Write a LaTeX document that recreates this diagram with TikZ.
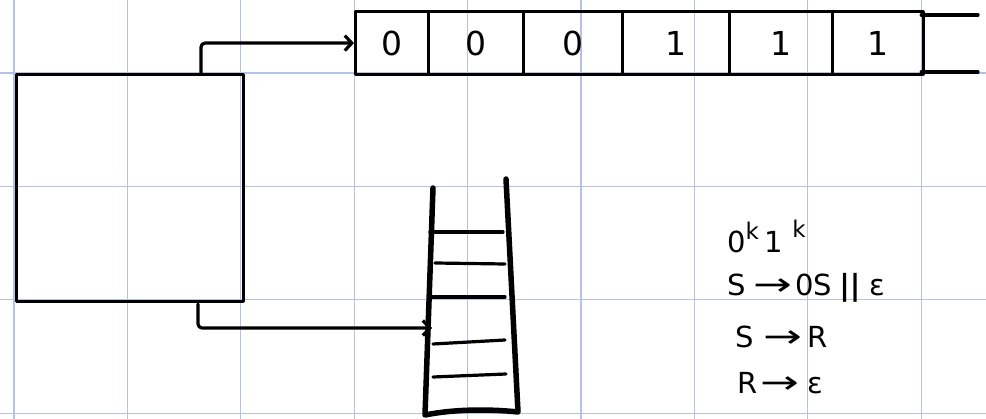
\documentclass[tikz,border=0pt]{standalone}
\usepackage{fontspec}
\usepackage{graphicx}
\setmainfont{DejaVu Sans}
\usetikzlibrary{arrows.meta}
\definecolor{gridblue}{RGB}{178,196,226}
\newcommand{\longarr}{\scalebox{1.6}[1.1]{→}}
\begin{document}
\begin{tikzpicture}[x=1pt,y=-1pt,
  gridline/.style={gridblue, line width=1.1pt},
  ink/.style={line width=3.2pt, line cap=round, line join=round},
  cell/.style={draw, ink, inner sep=0pt, minimum height=63pt, anchor=north west, font=\fontsize{33}{33}\selectfont},
  stackline/.style={line width=5.5pt, line cap=round, line join=round},
  conn/.style={ink, rounded corners=4pt, -{Straight Barb[length=7pt,width=15pt,line width=3.2pt]}},
  gram/.style={anchor=base west, inner sep=0pt, font=\fontsize{29}{29}\selectfont}]
\useasboundingbox (0,0) rectangle (986,419);
\fill[white] (0,0) rectangle (986,419);
% grid
\foreach \i in {0,...,8} \draw[gridline] ({14+113.4*\i},0) -- ({14+113.4*\i},419);
\foreach \y in {73,186.4,299.8,413.2} \draw[gridline] (0,\y) -- (986,\y);
% control box
\node[draw, ink, inner sep=0pt, minimum width=227pt, minimum height=227pt, anchor=north west] (fsm) at (15,73) {};
% tape
\node[cell, minimum width=73pt] (c1) at (354,10) {0};
\node[cell, minimum width=95pt] (c2) at (427,10) {0};
\node[cell, minimum width=99pt] (c3) at (522,10) {0};
\node[cell, minimum width=107pt] (c4) at (621,10) {1};
\node[cell, minimum width=103pt] (c5) at (728,10) {1};
\node[cell, minimum width=91pt] (c6) at (831,10) {1};
\coordinate (t1) at (978,15);
\coordinate (t2) at (978,72);
\draw[ink] (c6.east |- t1) ++(-4,0) -- (t1);
\draw[ink] (c6.east |- t2) ++(-4,0) -- (t2);
% stack
\draw[stackline] (433,188) -- (425,415) .. controls (455,409) and (490,409) .. (518,412) -- (506,179);
\draw[ink] (430,232) -- (503,232);
\draw[ink] (435,263) -- (505,264);
\draw[ink] (430,297) -- (505,297);
\draw[ink] (433,344) -- (505,340);
\draw[ink] (433,377) -- (506,374);
\coordinate (stackin) at (432,328);
% connectors
\coordinate (a1) at (201,73);
\coordinate (a2) at (198,304);
\draw[conn] (a1) |- (c1.west);
\draw[conn] (a2) |- (stackin);
% grammar
\node[gram] (g1) at (727,253) {0\raisebox{13pt}{\fontsize{23}{23}\selectfont k}\hspace{6pt}1\hspace{9pt}\raisebox{15pt}{\fontsize{23}{23}\selectfont k}};
\node[gram] (g2) at (727,296) {S\hspace{8pt}\longarr\hspace{3pt}0S\hspace{7pt}\textbf{||}\hspace{9pt}ε};
\node[gram] (g3) at (735,348) {S\hspace{10pt}\longarr\hspace{5pt}R};
\node[gram] (g4) at (737,394) {R\hspace{3pt}\longarr\hspace{8pt}ε};
\end{tikzpicture}
\end{document}
